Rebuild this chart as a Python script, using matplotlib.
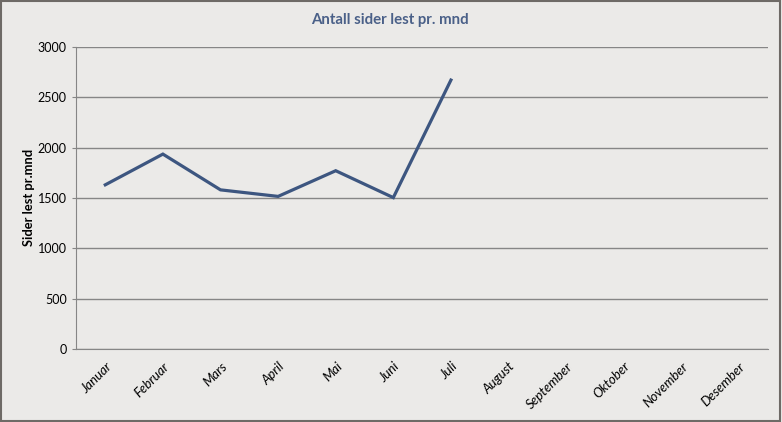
import matplotlib.pyplot as plt
from matplotlib.patches import Rectangle

# Data
maaneder = ["Januar", "Februar", "Mars", "April", "Mai", "Juni", "Juli",
            "August", "September", "Oktober", "November", "Desember"]
sider = [1630, 1935, 1580, 1515, 1770, 1503, 2670]
y_ticks = [0, 500, 1000, 1500, 2000, 2500, 3000]

plt.rcParams['font.family'] = ['Lato', 'DejaVu Sans']

bg = '#ebeae8'
fig = plt.figure(figsize=(7.82, 4.22), dpi=100, facecolor=bg)
ax = fig.add_axes([0.0978, 0.173, 0.884, 0.716], facecolor=bg)

# outer frame of the chart
fig.patches.append(Rectangle((0.001, 0.002), 0.997, 0.995, transform=fig.transFigure,
                             fill=False, edgecolor='#6e6a66', linewidth=1.5))

x = list(range(len(sider)))
ax.plot(x, sider, color='#3d5680', linewidth=2.3, solid_joinstyle='miter', zorder=3)

ax.set_xlim(-0.5, len(maaneder) - 0.5)
ax.set_ylim(0, 3000)
ax.set_yticks(y_ticks)
ax.set_yticklabels([str(v) for v in y_ticks], fontsize=9)
ax.set_xticks(range(len(maaneder)))
ax.set_xticklabels(maaneder, rotation=45, ha='right', rotation_mode='anchor',
                   fontsize=9.5, fontstyle='italic')

ax.yaxis.grid(True, color='#868686', linewidth=1)
ax.set_axisbelow(True)
for s in ['top', 'right']:
    ax.spines[s].set_visible(False)
for s in ['left', 'bottom']:
    ax.spines[s].set_color('#868686')
ax.tick_params(axis='y', length=3, color='#868686', pad=4)
ax.tick_params(axis='x', length=0, pad=8)

ax.set_ylabel('Sider lest pr.mnd', fontsize=9.3, fontweight='bold', labelpad=2)
fig.text(0.499, 0.952, 'Antall sider lest pr. mnd', ha='center', va='center',
         fontsize=10.8, fontweight='bold', color='#4a6088')

fig.savefig('out.png', dpi=100, facecolor=bg)
